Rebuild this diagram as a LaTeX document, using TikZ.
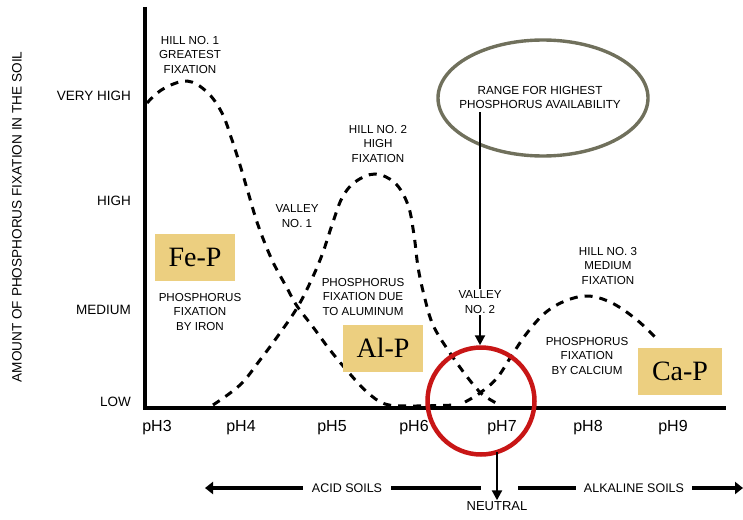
\documentclass[tikz,border=0pt]{standalone}
\usepackage{fontspec}
\setmainfont{Liberation Sans}
\newfontfamily\boxfont{Liberation Serif}
\usetikzlibrary{shapes.geometric,arrows.meta}
\definecolor{tan}{RGB}{236,207,128}
\definecolor{olivegray}{RGB}{112,112,92}
\definecolor{ringred}{RGB}{200,22,22}
\tikzset{
  axislbl/.style={font=\fontsize{13.5}{14}\selectfont, anchor=east, inner sep=0pt},
  phlbl/.style={font=\fontsize{16}{17}\selectfont, inner sep=0pt},
  note/.style={font=\fontsize{11.6}{14.2}\selectfont, align=center, inner sep=1pt},
  soillbl/.style={font=\fontsize{12.5}{14}\selectfont, inner sep=1pt},
  compbox/.style={fill=tan, font=\boxfont\fontsize{28}{30}\selectfont, minimum width=80pt, minimum height=47pt, inner sep=0pt},
  curve/.style={line width=3pt, dash pattern=on 8pt off 7pt},
  axisline/.style={line width=3.4pt},
  arr/.style={line width=3.4pt, -{Triangle[length=8pt,width=12pt]}},
  soilline/.style={line width=3.4pt},
  thinarr/.style={line width=2.2pt, -{Triangle[length=10pt,width=10pt]}}
}
\begin{document}
\begin{tikzpicture}[x=1pt,y=-1pt]
\useasboundingbox (0,0) rectangle (743,519);
% axes
\coordinate (ytop) at (145,7);
\coordinate (origin) at (145,408);
\coordinate (xend) at (726,408);
\draw[axisline] (ytop) -- (origin) -- (xend);
% y axis title
\node[rotate=90, font=\fontsize{13.6}{14}\selectfont, inner sep=0pt] (ytitle) at (17,217) {AMOUNT OF PHOSPHORUS FIXATION IN THE SOIL};
% y labels
\node[axislbl] (vh) at (131,96) {VERY HIGH};
\node[axislbl] (hi) at (131,201) {HIGH};
\node[axislbl] (med) at (131,310) {MEDIUM};
\node[axislbl] (low) at (131,402) {LOW};
% x labels
\node[phlbl] (p3) at (157,428) {pH3};
\node[phlbl] (p4) at (241,428) {pH4};
\node[phlbl] (p5) at (332,428) {pH5};
\node[phlbl] (p6) at (414,428) {pH6};
\node[phlbl] (p7) at (502,428) {pH7};
\node[phlbl] (p8) at (588,428) {pH8};
\node[phlbl] (p9) at (673,428) {pH9};
% curves
\draw[curve] plot[smooth, tension=0.6] coordinates {(147,103) (163,89) (187,81) (207,92) (222,113) (232,140) (240,165) (248,192) (258,225) (272,260) (287,288) (297,306) (313,327) (330,350) (350,374) (367,392) (385,404) (410,406) (457,405)};
\draw[curve] plot[smooth, tension=0.6] coordinates {(213,405) (240,385) (260,360) (280,333) (297,308) (310,283) (322,255) (332,225) (342,198) (355,182) (375,174) (395,183) (408,205) (414,235) (418,267) (424,295) (433,325) (450,353) (468,378) (482,394) (498,404)};
\draw[curve] plot[smooth, tension=0.6] coordinates {(465,402) (480,393) (497,378) (512,355) (527,333) (545,313) (565,301) (588,296) (612,303) (637,320) (658,340)};
% notes
\node[note] (hill1) at (190,55) {HILL NO. 1\\GREATEST\\FIXATION};
\node[note] (hill2) at (378,144) {HILL NO. 2\\HIGH\\FIXATION};
\node[note] (valley1) at (297,216) {VALLEY\\NO. 1};
\node[note] (hill3) at (608,266) {HILL NO. 3\\MEDIUM\\FIXATION};
\node[note] (feText) at (200,312) {PHOSPHORUS\\FIXATION\\BY IRON};
\node[note] (alText) at (363,297) {PHOSPHORUS\\FIXATION DUE\\TO ALUMINUM};
\node[note] (caText) at (587,356) {PHOSPHORUS\\FIXATION\\BY CALCIUM};
% boxes
\node[compbox] (fe) at (195,257) {Fe-P};
\node[compbox] (al) at (383,348) {Al-P};
\node[compbox, minimum width=84pt] (ca) at (680,371) {Ca-P};
% ellipse
\node[ellipse, draw=olivegray, line width=3.4pt, minimum width=210pt, minimum height=116pt, inner sep=0pt] (range) at (543,98) {};
\node[note, font=\fontsize{11.7}{14}\selectfont] (rangeText) at (540,97) {RANGE FOR HIGHEST\\PHOSPHORUS AVAILABILITY};
% red circle
\node[circle, draw=ringred, line width=4.5pt, minimum size=107pt, inner sep=0pt] (ring) at (481,401) {};
% arrow from ellipse to ring
\coordinate (arrStart) at (480,112);
\draw[thinarr] (arrStart) -- (ring.north -| arrStart);
\node[note, fill=white, inner sep=2pt] (valley2) at (480,302) {VALLEY\\NO. 2};
% neutral arrow
\node[note, font=\fontsize{13}{14}\selectfont] (neutral) at (497,506) {NEUTRAL};
\coordinate (nTop) at (497,452);
\draw[thinarr] (nTop) -- (neutral.north);
% soils
\node[soillbl] (acid) at (347,488) {ACID SOILS};
\node[soillbl] (alk) at (634,488) {ALKALINE SOILS};
\coordinate (acidL) at (205,488);
\coordinate (acidR) at (481,488);
\coordinate (alkL) at (518,488);
\coordinate (alkR) at (743,488);
\draw[arr] (acid.west) ++(-8,0) -- (acidL);
\draw[soilline] (acid.east) ++(8,0) -- (acidR);
\draw[soilline] (alk.west) ++(-7,0) -- (alkL);
\draw[arr] (alk.east) ++(7,0) -- (alkR);
\end{tikzpicture}
\end{document}
